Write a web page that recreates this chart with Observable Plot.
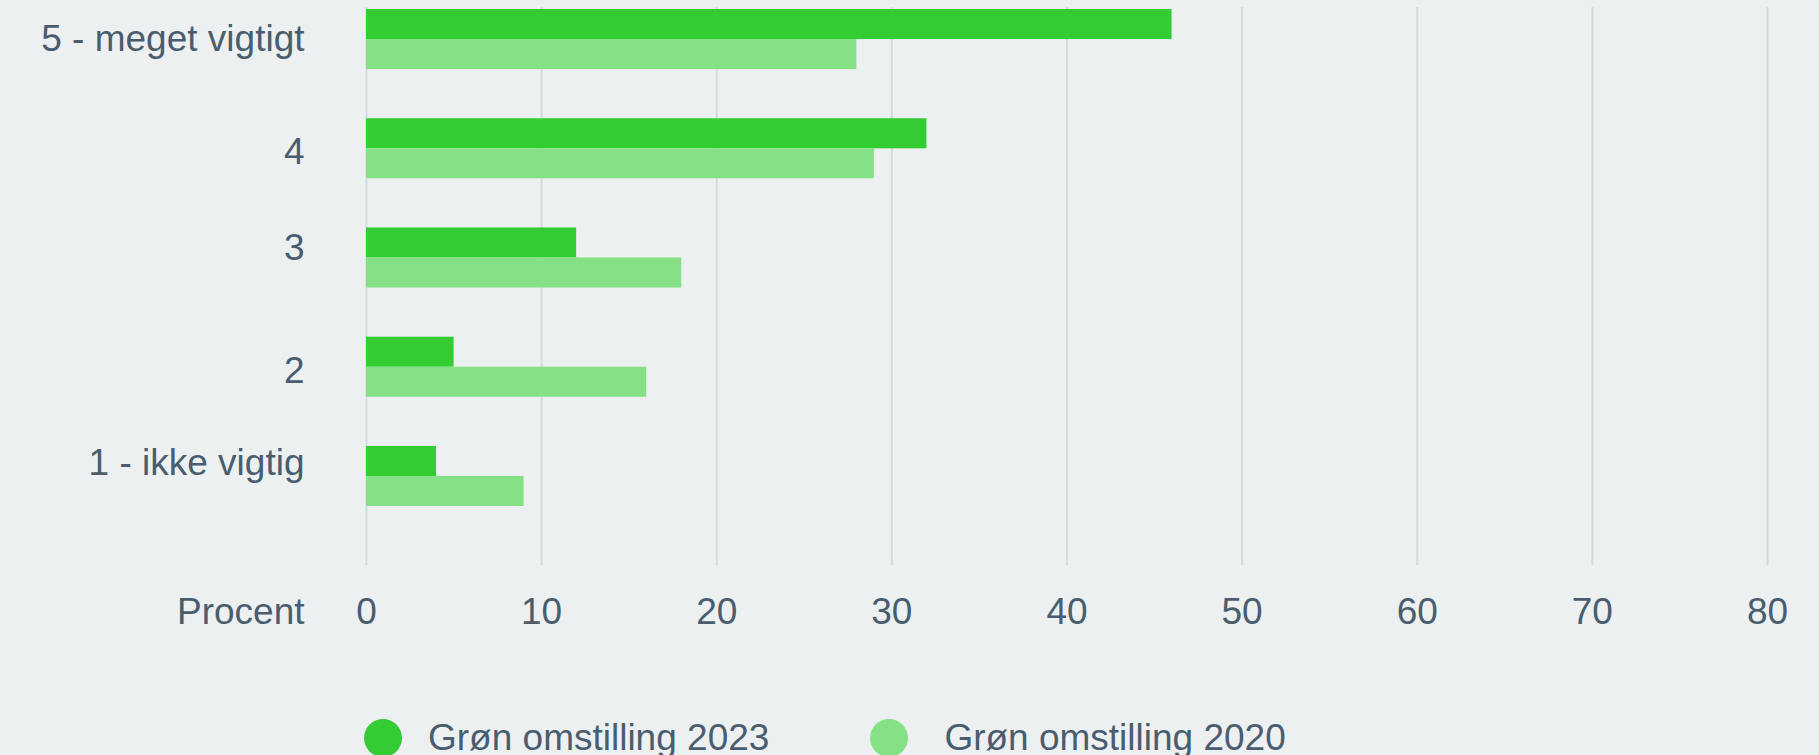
<!DOCTYPE html>
<html>
<head>
<meta charset="utf-8">
<script src="https://cdn.jsdelivr.net/npm/d3@7"></script>
<script src="https://cdn.jsdelivr.net/npm/@observablehq/plot@0.6"></script>
<style>
  html, body { margin: 0; padding: 0; background: #ecf0f1; overflow: hidden; }
  body { width: 1819px; height: 755px; font-family: "Liberation Sans", Arial, sans-serif; color: #4a5d6e; }
  #legend { display: flex; align-items: center; margin-left: 364px; margin-top: 39px; font-size: 37px; line-height: 38px; }
  .item { display: flex; align-items: center; }
  .swatch { width: 38px; height: 38px; border-radius: 50%; margin-right: 26px; }
  .item + .item { margin-left: 101px; }
  .item + .item .swatch { margin-right: 36px; }
</style>
</head>
<body>
<div id="chart"></div>
<div id="legend"></div>
<script>
const categories = ["5 - meget vigtigt", "4", "3", "2", "1 - ikke vigtig"];
const values2023 = [46, 32, 12, 5, 4];
const values2020 = [28, 29, 18, 16, 9];
const seriesNames = ["Grøn omstilling 2023", "Grøn omstilling 2020"];
const seriesColors = ["#33cc33", "#86e186"];
const xTicks = [0, 10, 20, 30, 40, 50, 60, 70, 80];
const xLabel = "Procent";

// small vertical nudges of the category labels, as in the original layout (px)
const labelNudge = [0, 3, -10, 4, -13];

const data2023 = categories.map((c, i) => ({category: c, value: values2023[i]}));
const data2020 = categories.map((c, i) => ({category: c, value: values2020[i]}));

const textColor = "#4a5d6e";
const gridColor = "#d1dcdd";

const chart = Plot.plot({
  width: 1819,
  height: 680,
  marginLeft: 366,
  marginRight: 52,
  marginTop: 7,
  marginBottom: 115,
  style: {fontFamily: "'Liberation Sans', Arial, sans-serif", fontSize: "37px", color: textColor, background: "#ecf0f1", overflow: "visible"},
  x: {domain: [0, 80]},
  y: {type: "band", domain: categories, range: [9, 506], paddingInner: 0.45, paddingOuter: 0, round: false},
  marks: [
    Plot.gridX(xTicks, {stroke: gridColor, strokeOpacity: 1, strokeWidth: 2}),
    Plot.barX(data2023, {x: "value", y: "category", fill: seriesColors[0], insetBottom: 30}),
    Plot.barX(data2020, {x: "value", y: "category", fill: seriesColors[1], insetTop: 30}),
    Plot.axisX(xTicks, {tickSize: 0, tickPadding: 32, label: null, fill: textColor}),
    ...categories.map((c, i) => Plot.axisY([c], {tickSize: 0, tickPadding: 62, label: null, fill: textColor, dy: labelNudge[i]})),
    Plot.text([xLabel], {text: d => d, frameAnchor: "bottom-left", textAnchor: "end", lineAnchor: "top", dx: -62, dy: 32, fill: textColor})
  ]
});
document.getElementById("chart").appendChild(chart);

const legend = d3.select("#legend");
seriesNames.forEach((name, i) => {
  const item = legend.append("div").attr("class", "item");
  item.append("div").attr("class", "swatch").style("background", seriesColors[i]);
  item.append("span").text(name);
});
</script>
</body>
</html>
